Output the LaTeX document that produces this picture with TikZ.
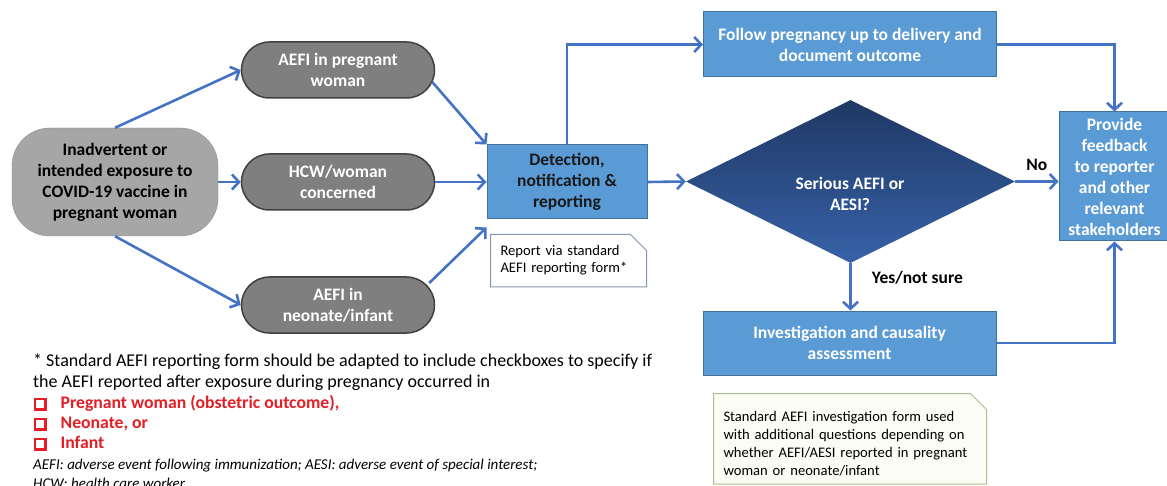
\documentclass[tikz,border=0pt]{standalone}
\usepackage{fontspec}
\setmainfont{Carlito}
\usetikzlibrary{positioning,arrows.meta,shapes.geometric,shapes.misc,calc}
\definecolor{flowblue}{HTML}{5B9BD5}
\definecolor{flowline}{HTML}{41719C}
\definecolor{arrblue}{HTML}{4472C4}
\definecolor{startgray}{HTML}{A6A6A6}
\definecolor{pillgray}{HTML}{7F7F7F}
\definecolor{navy}{HTML}{1F3864}
\definecolor{lownavy}{HTML}{3762A8}
\definecolor{checkred}{HTML}{E31E24}
\definecolor{noteline}{HTML}{8497B0}
\definecolor{greenline}{HTML}{A9C08C}
\definecolor{greenfill}{HTML}{FBFDF5}
\newcommand{\chkbox}{{\setlength{\fboxrule}{2.2pt}\setlength{\fboxsep}{0pt}\fcolorbox{checkred}{white}{\rule{0pt}{8pt}\hspace{8pt}}}\hspace{14pt}}

\begin{document}
\begin{tikzpicture}[x=1pt,y=-1pt,
  base/.style={font=\fontsize{17.5}{21}\selectfont\bfseries,align=center,inner sep=2pt},
  startbox/.style={base,rounded corners=38pt,fill=startgray,draw=startgray!85!black,minimum width=206pt,minimum height=108pt},
  pill/.style={base,rounded corners=28pt,fill=pillgray,draw=black!75,line width=1.5pt,minimum width=193pt,minimum height=56pt,text=white},
  flowbox/.style={base,fill=flowblue,draw=flowline,line width=1pt,text=white},
  decision/.style={diamond,top color=navy,bottom color=lownavy,minimum width=329pt,minimum height=163pt,inner sep=0pt},
  note/.style={chamfered rectangle,chamfered rectangle corners=north east,chamfered rectangle xsep=8pt,chamfered rectangle ysep=8pt,align=left,anchor=north west,line width=1pt},
  arr/.style={-{Straight Barb[length=7pt,width=15pt]},line width=2.6pt,draw=arrblue},
  lbl/.style={font=\fontsize{17.5}{21}\selectfont\bfseries,inner sep=0pt}]
\useasboundingbox (0,0) rectangle (1167,486);
% left column
\node[startbox] (exp) at (115,182) {Inadvertent or\\intended exposure to\\COVID-19 vaccine in\\pregnant woman};
\node[pill] (preg) at (338,70) {AEFI in pregnant\\woman};
\node[pill] (hcw) at (338,182) {HCW/woman\\concerned};
\node[pill] (neo) at (338,305) {AEFI in\\neonate/infant};
% main flow
\node[flowbox,text=black!90,minimum width=160pt,minimum height=74pt] (det) at (567,182) {Detection,\\notification \&\\reporting};
\node[flowbox,minimum width=293pt,minimum height=65pt] (fol) at (850,44.5) {Follow pregnancy up to delivery and\\document outcome};
\node[decision] (dec) at (850.5,181.5) {};
\node[lbl,text=white,align=center] (declbl) at (850,194) {Serious AEFI or\\AESI?};
\node[flowbox,minimum width=111pt,minimum height=129pt] (fb) at (1114.5,176.5) {Provide\\feedback\\to reporter\\and other\\relevant\\stakeholders};
\node[flowbox,minimum width=293pt,minimum height=64pt] (inv) at (849.5,343) {Investigation and causality\\assessment};
% notes
\node[note,draw=noteline,fill=white,inner xsep=2pt,text width=136pt,minimum height=52pt,font=\fontsize{14.6}{17}\selectfont] (rep) at (490,234) {Report via standard\\AEFI reporting form*};
\node[note,draw=greenline,fill=greenfill,inner xsep=2pt,inner ysep=0pt,text width=253pt,minimum height=90pt,font=\fontsize{14.6}{18}\selectfont] (invnote) at (713,393) {\rule{0pt}{20pt}Standard AEFI investigation form used\\with additional questions depending on\\whether AEFI/AESI reported in pregnant\\woman or neonate/infant};
% footnote
\node[anchor=north west,inner sep=0pt,align=left,font=\fontsize{18}{21}\selectfont] (fn) at (33,353.5) {* Standard AEFI reporting form should be adapted to include checkboxes to specify if\\the AEFI reported after exposure during pregnancy occurred in};
\node[anchor=north west,inner sep=0pt,align=left,text=checkred,font=\fontsize{17.7}{20}\selectfont\bfseries] (chk) at (34,395) {\chkbox Pregnant woman (obstetric outcome),\\\chkbox Neonate, or\\\chkbox Infant};
\node[anchor=north west,inner sep=0pt,align=left,font=\fontsize{15}{19}\selectfont\itshape] (abbr) at (33,459) {AEFI: adverse event following immunization; AESI: adverse event of special interest;\\HCW: health care worker};
% connectors
\draw[arr] (exp.north) -- (preg.west);
\draw[arr] (exp.east) -- (hcw.west);
\draw[arr] (exp.south) -- (neo.west);
\draw[arr] ([shift={(-3pt,-12pt)}]preg.east) -- (det.north west);
\draw[arr] (hcw.east) -- (det.west);
\draw[arr] ([shift={(-6pt,22pt)}]neo.east) -- ([yshift=-8pt]det.south west);
\draw[arr] (det.north) |- (fol.west);
\draw[arr] (det.east) -- (dec.west);
\draw[arr] (dec.east) -- node[lbl,above=10pt]{No} (dec.east -| fb.west);
\draw[arr] (fol.east) -| (fb.north);
\draw[arr] (dec.south) -- node[lbl,pos=0.3,right=20pt]{Yes/not sure} (dec.south |- inv.north);
\draw[arr] (inv.east) -| (fb.south);
\end{tikzpicture}
\end{document}
